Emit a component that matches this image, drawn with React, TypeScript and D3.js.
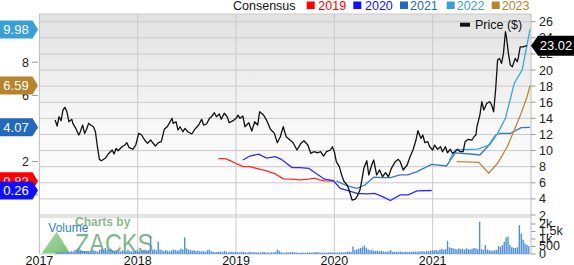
import React from 'react';
import * as d3 from 'd3';

const W = 574;
const H = 265;

// Price ($), dates as decimal years
const priceDates = [
  2017.16, 2017.18, 2017.2, 2017.22, 2017.24, 2017.26, 2017.28, 2017.3, 2017.33, 2017.34,
  2017.37, 2017.4, 2017.41, 2017.44, 2017.46, 2017.48, 2017.5, 2017.52, 2017.55, 2017.57,
  2017.59, 2017.61, 2017.63, 2017.67, 2017.7, 2017.74, 2017.76, 2017.78, 2017.8, 2017.84,
  2017.87, 2017.89, 2017.91, 2017.95, 2017.98, 2018.01, 2018.04, 2018.07, 2018.1, 2018.13,
  2018.18, 2018.21, 2018.24, 2018.27, 2018.3, 2018.32, 2018.35, 2018.36, 2018.39, 2018.41,
  2018.43, 2018.46, 2018.48, 2018.51, 2018.55, 2018.58, 2018.62, 2018.65, 2018.67, 2018.7,
  2018.73, 2018.75, 2018.78, 2018.8, 2018.83, 2018.85, 2018.88, 2018.91, 2018.93, 2018.97,
  2019.0, 2019.02, 2019.04, 2019.07, 2019.09, 2019.13, 2019.16, 2019.19, 2019.22, 2019.24,
  2019.28, 2019.31, 2019.35, 2019.39, 2019.42, 2019.45, 2019.48, 2019.51, 2019.54, 2019.58,
  2019.62, 2019.66, 2019.69, 2019.73, 2019.76, 2019.79, 2019.83, 2019.86, 2019.89, 2019.92,
  2019.96, 2019.98, 2020.0, 2020.02, 2020.05, 2020.08, 2020.1, 2020.13, 2020.15, 2020.18,
  2020.21, 2020.23, 2020.26, 2020.28, 2020.3, 2020.33, 2020.35, 2020.38, 2020.4, 2020.43,
  2020.46, 2020.49, 2020.52, 2020.55, 2020.58, 2020.62, 2020.65, 2020.67, 2020.7, 2020.74,
  2020.77, 2020.8, 2020.83, 2020.85, 2020.88, 2020.9, 2020.92, 2020.95, 2020.97, 2021.0,
  2021.02, 2021.05, 2021.08, 2021.1, 2021.13, 2021.15, 2021.18, 2021.2, 2021.23, 2021.25,
  2021.28, 2021.31, 2021.33, 2021.36, 2021.4, 2021.42, 2021.44, 2021.45, 2021.48, 2021.5,
  2021.52, 2021.55, 2021.58, 2021.6, 2021.62, 2021.64, 2021.66, 2021.68, 2021.7, 2021.72,
  2021.74, 2021.75, 2021.77, 2021.79, 2021.81, 2021.84, 2021.86, 2021.87, 2021.89, 2021.92,
  2021.94, 2021.96,
];
const priceValues = [
  13.79, 13.05, 14.2, 13.7, 15.04, 15.37, 14.82, 13.58, 13.88, 13.38,
  12.76, 11.93, 12.14, 13.17, 12.14, 12.64, 13.38, 13.17, 12.96, 12.34,
  10.48, 8.91, 8.74, 9.04, 9.57, 10.07, 9.57, 10.28, 9.98, 10.48,
  10.69, 10.98, 10.4, 10.16, 10.69, 12.14, 11.93, 11.31, 10.9, 11.31,
  10.57, 10.98, 11.1, 12.64, 12.96, 13.38, 14.0, 13.38, 13.58, 12.55,
  12.96, 12.34, 12.76, 12.34, 12.06, 12.64, 13.17, 13.88, 13.17, 13.3,
  14.0, 14.2, 14.7, 14.2, 14.54, 13.88, 14.63, 14.2, 13.46, 13.71,
  14.0, 14.41, 14.0, 14.29, 12.96, 13.46, 12.43, 13.58, 13.17, 14.82,
  14.41, 13.79, 12.64, 12.14, 10.98, 11.72, 12.96, 11.72, 11.4, 10.98,
  10.07, 10.9, 11.22, 10.69, 9.66, 9.86, 9.73, 9.86, 9.32, 9.86,
  10.07, 10.48, 9.86, 8.62, 8.0, 6.75, 6.13, 5.72, 5.1, 3.86,
  3.95, 4.27, 5.1, 6.35, 7.8, 8.74, 6.97, 8.21, 8.83, 6.97,
  7.59, 6.75, 7.25, 6.75, 7.8, 8.62, 8.91, 8.62, 7.59, 8.21,
  9.24, 10.07, 11.31, 12.47, 11.52, 11.93, 10.98, 11.1, 10.48, 10.07,
  10.69, 10.16, 10.48, 9.86, 10.48, 9.73, 10.16, 9.66, 9.86, 10.16,
  9.86, 9.86, 11.1, 11.4, 11.31, 11.72, 11.93, 12.96, 14.41, 16.07,
  15.04, 15.87, 16.07, 15.66, 14.82, 17.52, 21.24, 21.45, 20.83, 22.07,
  24.76, 24.14, 22.07, 20.62, 20.41, 21.45, 21.03, 21.45, 22.89, 22.89,
  22.98, 23.02,
];

// Consensus EPS estimates (left axis)
const eps2019Dates = [2018.82, 2018.89, 2018.94, 2019.01, 2019.07, 2019.14, 2019.23, 2019.31, 2019.4, 2019.48, 2019.57, 2019.65, 2019.74, 2019.8, 2019.85, 2019.9, 2019.99];
const eps2019Values = [2.18, 2.18, 2.06, 1.86, 1.7, 1.7, 1.56, 1.44, 1.26, 0.96, 0.94, 0.9, 0.94, 1.0, 0.9, 0.84, 0.82];

const eps2020Dates = [2019.07, 2019.14, 2019.23, 2019.31, 2019.4, 2019.46, 2019.57, 2019.65, 2019.74, 2019.8, 2019.9, 2019.99, 2020.06, 2020.14, 2020.23, 2020.33, 2020.41, 2020.49, 2020.57, 2020.67, 2020.75, 2020.84, 2020.99];
const eps2020Values = [2.1, 2.34, 2.45, 2.21, 2.3, 2.14, 1.64, 1.64, 1.6, 1.34, 0.94, 0.85, 0.39, 0.25, 0.09, 0.05, 0.09, -0.11, -0.35, -0.01, -0.01, 0.23, 0.26];

const eps2021Dates = [2020.02, 2020.13, 2020.23, 2020.31, 2020.4, 2020.5, 2020.57, 2020.67, 2020.75, 2020.84, 2020.99, 2021.14, 2021.23, 2021.38, 2021.48, 2021.56, 2021.64, 2021.69, 2021.79, 2021.9, 2021.99];
const eps2021Values = [0.84, 0.53, 0.39, 0.59, 1.06, 1.03, 1.03, 1.2, 1.2, 1.4, 1.84, 1.74, 2.53, 2.46, 2.4, 2.91, 3.61, 3.71, 3.71, 4.05, 4.07];

const eps2022Dates = [2021.17, 2021.23, 2021.46, 2021.58, 2021.66, 2021.74, 2021.83, 2021.91, 2021.99];
const eps2022Values = [2.1, 2.71, 2.75, 3.01, 3.71, 4.62, 6.73, 7.53, 9.98];

const eps2023Dates = [2021.245, 2021.47, 2021.57, 2021.66, 2021.76, 2021.83, 2021.9, 2021.96, 2021.99];
const eps2023Values = [2.0, 1.96, 1.3, 1.9, 2.91, 3.91, 4.92, 5.92, 6.59];

// Weekly volume starting at volumeStart
const volumeStart = 2017.17;
const volumeValues = [
  80, 120, 100, 140, 110, 130, 150, 120, 200, 180,
  250, 300, 380, 280, 200, 180, 150, 200, 170, 220,
  250, 190, 160, 280, 330, 250, 400, 300, 270, 350,
  240, 200, 180, 220, 160, 250, 190, 170, 300, 210,
  180, 150, 220, 260,
  200, 180, 250, 300, 220, 260, 1200, 280, 320, 240, 830,
  300, 250, 200, 260, 220, 180, 240, 300, 270, 220, 250, 350, 300, 1100,
  380, 300, 260, 230, 250, 200, 220, 180, 170, 200, 150,
  250, 300, 180, 150, 120, 140, 160, 130, 120, 200, 150, 110, 130, 150, 120, 140,
  120, 100, 150, 130, 110, 90, 140, 120, 100, 130,
  110, 90, 100, 120, 140, 110, 100, 90, 120, 100,
  130, 300, 220, 110, 90, 80, 120, 100, 110, 130,
  110, 100, 90, 80, 100, 90, 80, 110, 100, 90,
  100, 120, 130, 110, 90, 100, 80, 90, 110, 100, 120, 90,
  100, 90, 110, 120, 100, 130, 150, 170, 140, 500,
  250, 300, 350, 400, 450, 575,
  420, 300, 250, 280, 220, 200, 230, 180, 200, 170, 150, 160,
  180, 260, 150, 140, 160, 130, 170, 150, 140, 160,
  130, 150, 140, 170, 160, 150, 180, 170, 190, 160, 200, 180, 220, 250, 240,
  270, 220, 300, 350, 280, 320, 880,
  450, 400, 380, 350, 300, 380, 320, 350,
  300, 380, 330, 300, 350, 400, 370, 320, 2150,
  320, 280, 600, 300, 250, 230, 220, 250, 280, 530,
  480, 600, 800, 1100, 1170, 600,
  450, 420, 400, 450, 1925,
  1370, 950, 700, 600, 520,
];

const yearTicks = [2017, 2018, 2019, 2020, 2021];
const priceTicks = [2, 4, 6, 8, 10, 12, 14, 16, 18, 20, 22, 24, 26];
const epsTicks = [0, 2, 4, 6, 8, 10];
const volumeTicks = [0, 500, 1000, 1500, 2000];
const volumeTickLabels = ['0', '500', '1k', '1.5k', '2k'];

const seriesNames = ['2019', '2020', '2021', '2022', '2023'];
const seriesColors = ['#ff0000', '#1010ff', '#2367be', '#38a0d6', '#b8832d'];
const lineColors = ['#ff2a2a', '#2a2aff', '#3a78c8', '#3da3dc', '#c0863a'];
const tagLabels = ['0.82', '0.26', '4.07', '9.98', '6.59'];
const tagValues = [0.82, 0.26, 4.07, 9.98, 6.59];
const lastPriceLabel = '23.02';
const lastPrice = 23.02;

const FONT = '"Liberation Sans", Arial, Helvetica, sans-serif';

export default function App() {
  const left = 39.4;
  const right = 531;
  const top = 14;
  const mainBottom = 215;
  const volTop = 217;
  const volBottom = 254;

  const x = d3.scaleLinear().domain([2017, 2022]).range([left, right]);
  const yPrice = d3.scaleLinear().domain([2, 26.96]).range([mainBottom, top]);
  const yEps = d3.scaleLinear().domain([-1.22, 10.91]).range([mainBottom, top]);
  const yVol = d3.scaleLinear().domain([0, 2000]).range([volBottom, 224]);

  const priceLine = d3.line<number>().x((_, i) => x(priceDates[i])).y((d) => yPrice(d));
  const epsLine = (dates: number[]) =>
    d3.line<number>().x((_, i) => x(dates[i])).y((d) => yEps(d));

  const epsSeries = [
    [eps2019Dates, eps2019Values],
    [eps2020Dates, eps2020Values],
    [eps2021Dates, eps2021Values],
    [eps2022Dates, eps2022Values],
    [eps2023Dates, eps2023Values],
  ] as [number[], number[]][];

  const week = 1 / 52;
  const grid = '#c9c9c9';

  const legendSquareX = [306.7, 353.3, 400, 446.7, 491.7];
  const legendTextX = [318.3, 365, 410, 456.7, 501.7];

  const tagOrder = [0, 1, 2, 4, 3]; // draw order (0.26 over 0.82)
  const tagColorIdx = [0, 1, 2, 3, 4];

  const py = yPrice(lastPrice);

  return (
    <svg width={W} height={H} style={{ position: 'absolute', left: 0, top: 0, fontFamily: FONT }}>
      <defs>
        <linearGradient id="bg" x1="0" y1="0" x2="0" y2="1">
          <stop offset="0" stopColor="#e2e2e2" />
          <stop offset="0.55" stopColor="#f7f7f7" />
          <stop offset="1" stopColor="#ffffff" />
        </linearGradient>
        <linearGradient id="tri" x1="0" y1="0" x2="1" y2="1">
          <stop offset="0" stopColor="#9ad49a" />
          <stop offset="1" stopColor="#5fb35f" />
        </linearGradient>
      </defs>
      <rect x={0} y={0} width={W} height={H} fill="#fff" />
      <rect x={left} y={top} width={right - left} height={mainBottom - top} fill="url(#bg)" />

      {/* horizontal grid */}
      {priceTicks.map((t) => (
        <line key={'hg' + t} x1={left} x2={right} y1={yPrice(t)} y2={yPrice(t)} stroke={grid} strokeWidth={1} />
      ))}
      <line x1={left} x2={right} y1={top} y2={top} stroke={grid} />
      <line x1={left} x2={right} y1={volTop} y2={volTop} stroke={grid} />
      <line x1={left} x2={right} y1={volBottom} y2={volBottom} stroke={grid} />
      {/* vertical grid */}
      {yearTicks.slice(1).map((t) => (
        <line key={'vg' + t} x1={x(t)} x2={x(t)} y1={top} y2={volBottom} stroke={grid} />
      ))}
      <line x1={left} x2={left} y1={top} y2={volBottom} stroke="#bdbdbd" />
      <line x1={right} x2={right} y1={top} y2={volBottom} stroke="#bdbdbd" />

      {/* watermark */}
      <g opacity={0.85}>
        <polygon points={`${41.7},${253.3} ${56.7},${231.7} ${70},${253.3}`} fill="url(#tri)" />
        <text x={75} y={226} fontSize={12} fill="#76ae76" fontWeight="bold">Charts by</text>
        <text x={75} y={253} fontSize={28} fill="#6fa879" textLength={78} lengthAdjust="spacingAndGlyphs">ZACKS</text>
      </g>
      <text x={48.3} y={232} fontSize={12} fill="#2f7fd3">Volume</text>

      {/* volume bars */}
      {volumeValues.map((v, i) => {
        const xc = x(volumeStart + i * week);
        return (
          <rect key={'v' + i} x={xc - 0.7} y={yVol(v)} width={1.4} height={volBottom - yVol(v)} fill="#4f90d6" />
        );
      })}

      {/* consensus lines */}
      {epsSeries.map(([dates, vals], k) => (
        <path key={'eps' + k} d={epsLine(dates)(vals) || ''} fill="none" stroke={lineColors[k]} strokeWidth={1.3} />
      ))}

      {/* price */}
      <path d={priceLine(priceValues) || ''} fill="none" stroke="#111" strokeWidth={1.3} strokeLinejoin="round" />

      {/* right axis */}
      {priceTicks.map((t) => (
        <g key={'pt' + t}>
          <line x1={right} x2={right + 4.5} y1={yPrice(t)} y2={yPrice(t)} stroke="#999" />
          <text x={539} y={yPrice(t)} dy="0.36em" fontSize={12.5} fill="#222">{t}</text>
        </g>
      ))}
      {volumeTicks.map((t, i) => (
        <g key={'vt' + t}>
          <line x1={right} x2={right + 4.5} y1={yVol(t)} y2={yVol(t)} stroke="#999" />
          <text x={539} y={yVol(t)} dy="0.3em" fontSize={12.5} fill="#222">{volumeTickLabels[i]}</text>
        </g>
      ))}

      {/* left axis */}
      {epsTicks.map((t) => (
        <g key={'et' + t}>
          <line x1={32} x2={38} y1={yEps(t)} y2={yEps(t)} stroke="#999" />
          <text x={29} y={yEps(t)} dy="0.36em" fontSize={12.5} fill="#222" textAnchor="end">{t}</text>
        </g>
      ))}

      {/* left tags */}
      {tagOrder.map((k) => {
        const yy = yEps(tagValues[k]);
        return (
          <g key={'tag' + k}>
            <path d={`M0,${yy - 9} L32.5,${yy - 9} L38,${yy} L32.5,${yy + 9} L0,${yy + 9} Z`} fill={seriesColors[tagColorIdx[k]]} />
            <text x={16} y={yy} dy="0.36em" fontSize={13} fill="#fff" textAnchor="middle">{tagLabels[k]}</text>
          </g>
        );
      })}

      {/* last price tag */}
      <path d={`M${right},${py} L${right + 7},${py - 10} L574,${py - 10} L574,${py + 10} L${right + 7},${py + 10} Z`} fill="#000" />
      <text x={556} y={py} dy="0.36em" fontSize={13} fill="#fff" textAnchor="middle">{lastPriceLabel}</text>

      {/* price legend */}
      <rect x={460} y={22.7} width={10} height={4} fill="#111" />
      <text x={475} y={28.8} fontSize={12.5} fill="#111">Price ($)</text>

      {/* consensus legend */}
      <text x={233} y={9.8} fontSize={12.5} fill="#111">Consensus</text>
      {seriesNames.map((s, k) => (
        <g key={'lg' + s}>
          <rect x={legendSquareX[k]} y={1.5} width={8} height={7.5} fill={seriesColors[k]} />
          <text x={legendTextX[k]} y={9.8} fontSize={12.5} fill={seriesColors[k]}>{s}</text>
        </g>
      ))}

      {/* x axis labels */}
      {yearTicks.map((t) => (
        <text key={'yl' + t} x={x(t)} y={264.5} fontSize={12.5} fill="#111" textAnchor="middle">{t}</text>
      ))}
    </svg>
  );
}
